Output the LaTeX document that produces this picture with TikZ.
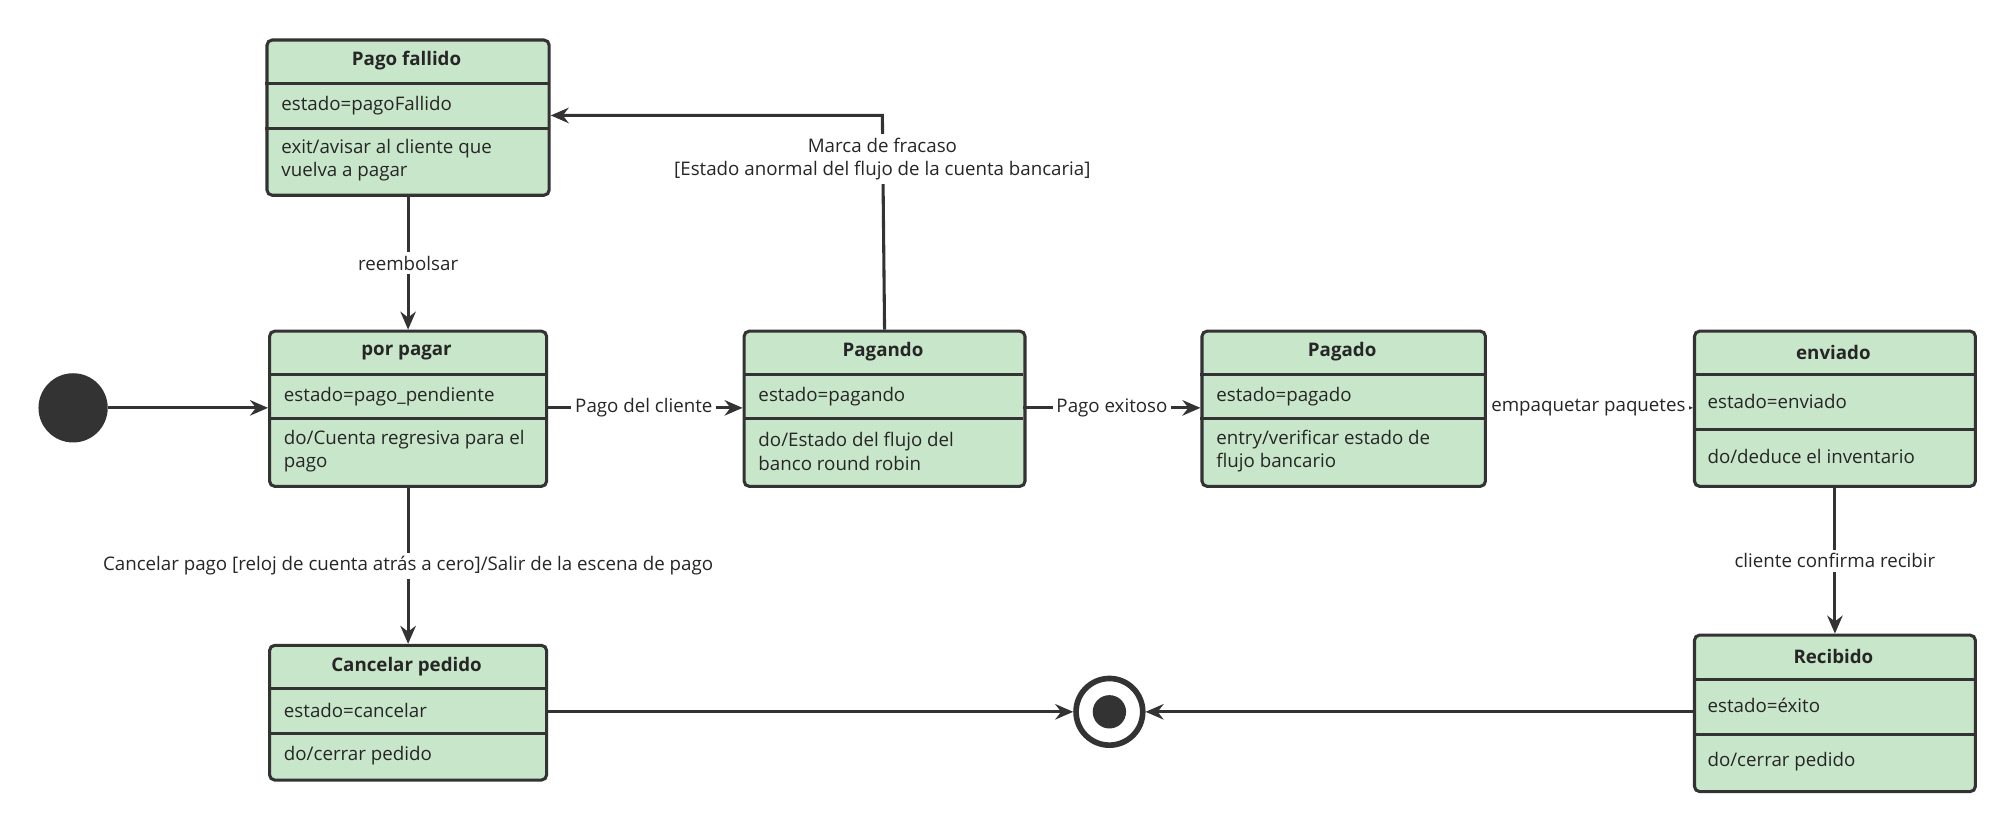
\documentclass[tikz,border=0pt]{standalone}
\usepackage{fontspec}
\setmainfont{Open Sans}
\usetikzlibrary{arrows.meta}
\begin{document}
\begin{tikzpicture}[x=0.5pt,y=-0.5pt,
  box/.style={draw=black!80,line width=1.2pt,rounded corners=2pt},
  sep/.style={draw=black!80,line width=1.2pt},
  txt/.style={font=\fontsize{7.3}{9}\selectfont,text=black!85,anchor=west,align=left,inner sep=0},
  ttl/.style={font=\fontsize{7.3}{9}\selectfont\bfseries,text=black!85,inner sep=0},
  lbl/.style={font=\fontsize{7.3}{9}\selectfont,text=black!85,fill=white,inner sep=1.5pt,align=center},
  arr/.style={draw=black!80,line width=1.2pt,-{Stealth[length=7pt,width=6pt]}}]
\definecolor{boxg}{HTML}{C8E6C9}
\tikzset{box/.append style={fill=boxg}}
\useasboundingbox (0,0) rectangle (1568,645);
\newcommand{\umlbox}[9]{%
  \node[box,minimum width=(#4-#2)*0.5pt,minimum height=(#5-#3)*0.5pt,anchor=north west,inner sep=0] (#1) at (#2,#3) {};
  \draw[sep] (#2,#6) -- (#4,#6);
  \draw[sep] (#2,#7) -- (#4,#7);
  \node[ttl] (#1t) at ({(#2+#4)/2},{(#3+#6)/2}) {#8};
  #9}
\umlbox{pf}{207}{30}{427}{151}{65}{100}{Pago fallido}{%
  \node[txt] (pf1) at (219,82) {estado=pagoFallido};
  \node[txt] (pf2) at (219,125) {exit/avisar al cliente que\\vuelva a pagar};}
\umlbox{pp}{209}{257}{425}{378}{292}{326}{por pagar}{%
  \node[txt] (pp1) at (221,309) {estado=pago\_pendiente};
  \node[txt] (pp2) at (221,352) {do/Cuenta regresiva para el\\pago};}
\umlbox{pg}{579}{257}{798}{378}{292}{326}{Pagando}{%
  \node[txt] (pg1) at (591,309) {estado=pagando};
  \node[txt] (pg2) at (591,352) {do/Estado del flujo del\\banco round robin};}
\umlbox{pd}{936}{257}{1157}{378}{292}{326}{Pagado}{%
  \node[txt] (pd1) at (948,309) {estado=pagado};
  \node[txt] (pd2) at (948,352) {entry/verificar estado de\\flujo bancario};}
\umlbox{en}{1320}{257}{1539}{378}{292}{335}{enviado}{%
  \node[txt] (en1) at (1331,313) {estado=enviado};
  \node[txt] (en2) at (1331,356) {do/deduce el inventario};}
\umlbox{cp}{209}{502}{425}{607}{537}{572}{Cancelar pedido}{%
  \node[txt] (cp1) at (221,554) {estado=cancelar};
  \node[txt] (cp2) at (221,589) {do/cerrar pedido};}
\umlbox{rc}{1320}{494}{1539}{616}{530}{573}{Recibido}{%
  \node[txt] (rc1) at (1331,550) {estado=éxito};
  \node[txt] (rc2) at (1331,594) {do/cerrar pedido};}
\node[circle,fill=black!80,minimum size=27pt,inner sep=0] (st) at (57,318) {};
\node[circle,draw=black!80,line width=2.2pt,fill=white,minimum size=26pt,inner sep=0] (fin) at (865,555) {};
\node[circle,fill=black!80,minimum size=13pt,inner sep=0] (fini) at (865,555) {};
\draw[arr] (st) -- (pp.west|-st);
\draw[arr] (425,318) -- node[lbl]{Pago del cliente} (pg.west|-0,318);
\draw[arr] (798,318) -- node[lbl]{Pago exitoso} (pd.west|-0,318);
\draw[arr] (1157,318) -- node[lbl]{empaquetar paquetes} (en.west|-0,318);
\draw[arr] (pf.south) -- node[lbl]{reembolsar} (pp.north);
\coordinate (c1) at (688,90);
\draw[arr] (pg.north) -- (c1) -- (pf.east|-c1);
\node[lbl] (ml) at (688,124) {Marca de fracaso\\{}[Estado anormal del flujo de la cuenta bancaria]};
\draw[arr] (pp.south) -- node[lbl,pos=0.5]{Cancelar pago [reloj de cuenta atrás a cero]/Salir de la escena de pago} (cp.north);
\draw[arr] (en.south) -- node[lbl]{cliente confirma recibir} (rc.north);
\draw[arr] (cp.east|-fin) -- (fin.west);
\draw[arr] (rc.west|-fin) -- (fin.east);
\end{tikzpicture}
\end{document}
